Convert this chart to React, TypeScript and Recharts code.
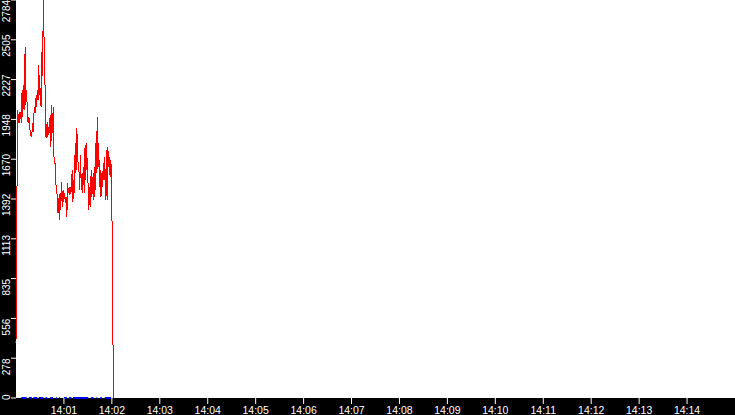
import { LineChart, Line, XAxis, YAxis, CartesianGrid } from "recharts";

// sampled readings, one every SAMPLE_SEC seconds from START
const START = "14:00";
const SAMPLE_SEC = 0.95;

const RED = [
  385, 1210, 2015, 1968, 1921, 2003, 1991, 1921,
  2154, 1968, 2189, 2015, 2457, 2050, 2154, 1991, 1921,
  1968, 1898, 1851, 1828, 1851, 1921, 1863, 2038, 1991,
  2096, 2038, 2154, 2085, 2329, 2120, 2170, 2038, 2423, 2250,
  2784, 2500, 2294, 1840, 1816, 1933, 1828, 1898, 1851, 1980,
  1758, 2050, 1851, 2038, 1688, 1642, 1642,
  1432, 1432, 1292, 1397, 1245, 1432, 1315, 1513, 1338, 1455,
  1373, 1432, 1362, 1408, 1268, 1505, 1432, 1478, 1420, 1478,
  1443, 1595, 1373, 1525, 1432, 1781, 1572, 1886, 1781, 1595,
  1583, 1455, 1700, 1455, 1572, 1432, 1618, 1432, 1770, 1525,
  1781, 1595, 1490, 1315, 1478, 1338, 1595, 1408, 1548, 1385,
  1618, 1408, 1781, 1572, 1968, 1600, 1781, 1478, 1595, 1408,
  1572, 1478, 1642, 1525, 1688, 1385, 1735, 1385, 1758, 1618,
  1688, 1548, 1665, 1525, 951, 245, 0,
];

// blue trace sits on zero, only present in these sample ranges
const BLUE_VALUE = 0;
const BLUE_RUNS = [
  [7, 14], [17, 21], [23, 28], [30, 33], [34, 36], [39, 41], [45, 49],
  [53, 54], [57, 58], [63, 67], [70, 73], [75, 95], [99, 102],
  [106, 107], [111, 113], [117, 125],
];

const Y_TICKS = [0, 278.4, 556.8, 835.2, 1113.6, 1392, 1670.4, 1948.8, 2227.2, 2505.6, 2784];
const X_TICK_LABELS = [
  "14:01", "14:02", "14:03", "14:04", "14:05", "14:06", "14:07",
  "14:08", "14:09", "14:10", "14:11", "14:12", "14:13", "14:14",
];
const X_END = "14:15";

const toMin = (s: string) => {
  const [h, m] = s.split(":").map(Number);
  return h * 60 + m;
};
const toSec = (s: string) => (toMin(s) - toMin(START)) * 60;

const data = RED.map((v, i) => ({
  t: i * SAMPLE_SEC,
  red: v,
  blue: BLUE_RUNS.some(([a, b]) => i >= a && i <= b) ? BLUE_VALUE : null,
}));

const FONT = "'Liberation Sans', Arial, sans-serif";

function YTick({ y, payload }: any) {
  const label = String(Math.floor(payload.value));
  const w = label.length * 5.56;
  let bottom = Math.min(y + 17, 400);
  if (bottom - w < 0) bottom = w;
  return (
    <text
      x={10}
      y={bottom}
      transform={`rotate(-90 10 ${bottom})`}
      textAnchor="start"
      fill="#fff"
      fontSize={10}
      fontFamily={FONT}
    >
      {label}
    </text>
  );
}

function XTick({ x, payload }: any) {
  const m = toMin(START) + payload.value / 60;
  const label = `${Math.floor(m / 60)}:${String(Math.round(m % 60)).padStart(2, "0")}`;
  return (
    <text x={x} y={414} textAnchor="middle" fill="#fff" fontSize={10.5} fontFamily={FONT}>
      {label}
    </text>
  );
}

export default function App() {
  return (
    <div style={{ width: 735, height: 415, background: "#000" }}>
      <style>{`body{margin:0}`}</style>
      <LineChart width={735} height={415} data={data} margin={{ top: 0, right: 0, bottom: 0, left: 0 }}>
        <CartesianGrid horizontal={false} vertical={false} fill="#fff" stroke="none" />
        <XAxis
          dataKey="t"
          type="number"
          domain={[0, toSec(X_END)]}
          ticks={X_TICK_LABELS.map(toSec)}
          interval={0}
          height={17}
          axisLine={false}
          tickLine={{ stroke: "#fff" }}
          tickSize={6}
          tick={<XTick />}
        />
        <YAxis
          type="number"
          domain={[0, 2784]}
          ticks={Y_TICKS}
          interval={0}
          width={16}
          axisLine={false}
          tickLine={{ stroke: "#fff" }}
          tickSize={5}
          tick={<YTick />}
        />
        <Line
          dataKey="blue"
          stroke="#0000ff"
          strokeWidth={2}
          dot={false}
          connectNulls={false}
          isAnimationActive={false}
        />
        <Line
          dataKey="red"
          stroke="#ff0000"
          strokeWidth={1}
          dot={false}
          shapeRendering="crispEdges"
          isAnimationActive={false}
        />
      </LineChart>
    </div>
  );
}
